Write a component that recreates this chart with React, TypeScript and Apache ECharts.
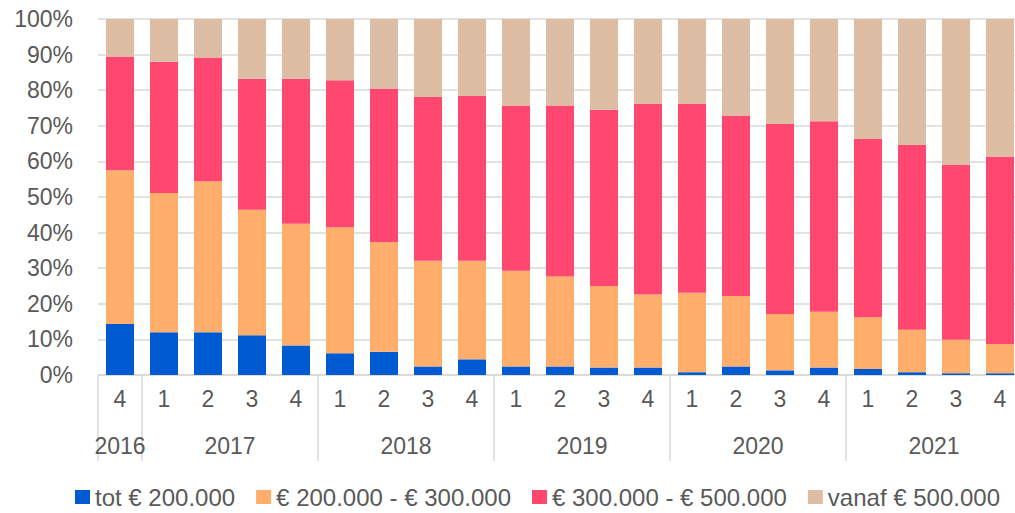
import React, { useEffect, useRef } from "react";
import * as echarts from "echarts";

const quarters = ["4", "1", "2", "3", "4", "1", "2", "3", "4", "1", "2", "3", "4", "1", "2", "3", "4", "1", "2", "3", "4"];
const years = ["2016", "2017", "2018", "2019", "2020", "2021"];
const quartersPerYear = [1, 4, 4, 4, 4, 4];
const yTicks = [0, 10, 20, 30, 40, 50, 60, 70, 80, 90, 100];

const seriesNames = ["tot € 200.000", "€ 200.000 - € 300.000", "€ 300.000 - € 500.000", "vanaf € 500.000"];
const totEur200k = [14.3, 12.0, 12.0, 11.2, 8.3, 6.1, 6.5, 2.4, 4.4, 2.4, 2.4, 2.1, 2.1, 0.8, 2.4, 1.3, 2.1, 1.7, 0.8, 0.5, 0.5];
const eur200to300k = [43.2, 39.1, 42.4, 35.2, 34.2, 35.4, 30.8, 29.7, 27.7, 26.9, 25.3, 22.9, 20.5, 22.3, 19.8, 15.8, 15.7, 14.5, 11.9, 9.4, 8.2];
const eur300to500k = [32.0, 36.9, 34.8, 36.8, 40.7, 41.3, 43.2, 46.0, 46.3, 46.4, 48.0, 49.5, 53.5, 53.0, 50.7, 53.4, 53.5, 50.1, 51.9, 49.1, 52.7];
const vanafEur500k = [10.5, 12.0, 10.8, 16.8, 16.8, 17.2, 19.5, 21.9, 21.6, 24.3, 24.3, 25.5, 23.9, 23.9, 27.1, 29.5, 28.7, 33.7, 35.4, 41.0, 38.6];

const colors = ["#005AD2", "#FFAE6B", "#FF476F", "#DDBEA4"];
const FONT = "'Liberation Sans', Arial, sans-serif";
const TEXT = "#595959";
const GRID = "#D9D9D9";
const FS = 23;

export default function App() {
  const ref = useRef<HTMLDivElement>(null);
  useEffect(() => {
    if (!ref.current) return;
    const chart = echarts.init(ref.current, null, { renderer: "svg" });

    // half-step slots for year labels and year separators
    const n = quarters.length;
    const slots: string[] = new Array(2 * n + 1).fill("");
    const sepIdx = new Set<number>();
    let s = 0;
    years.forEach((y, i) => {
      const c = quartersPerYear[i];
      slots[2 * s + c] = y;
      sepIdx.add(2 * s);
      s += c;
    });
    sepIdx.add(2 * s);
    const slotCats = slots.map((v, i) => (v === "" ? " ".repeat(i + 1) : v));

    const datasets = [totEur200k, eur200to300k, eur300to500k, vanafEur500k];

    chart.setOption({
      animation: false,
      textStyle: { fontFamily: FONT },
      grid: { left: 98, right: 8, top: 19, bottom: 138, containLabel: false },
      legend: {
        top: 480,
        left: 70,
        itemWidth: 15,
        itemHeight: 14,
        itemGap: 21,
        icon: "rect",
        textStyle: { color: TEXT, fontSize: 24, fontFamily: FONT },
        data: seriesNames,
      },
      xAxis: [
        {
          type: "category",
          data: quarters,
          axisLine: { show: true, lineStyle: { color: GRID, width: 1.5 } },
          axisTick: { show: false },
          axisLabel: { interval: 0, color: TEXT, fontSize: FS, margin: 12, fontFamily: FONT },
        },
        {
          type: "category",
          data: slotCats,
          boundaryGap: false,
          position: "bottom",
          axisLine: { show: false },
          axisTick: {
            show: true,
            length: 86,
            interval: (idx: number) => sepIdx.has(idx),
            lineStyle: { color: GRID, width: 1.5 },
          },
          axisLabel: {
            interval: 0,
            color: TEXT,
            fontSize: FS,
            margin: 59,
            fontFamily: FONT,
            formatter: (v: string) => v.trim(),
          },
        },
      ],
      yAxis: {
        type: "value",
        min: yTicks[0],
        max: yTicks[yTicks.length - 1],
        interval: 10,
        axisLine: { show: false },
        axisTick: { show: false },
        axisLabel: { color: TEXT, fontSize: FS, margin: 25, formatter: "{value}%", fontFamily: FONT },
        splitLine: { lineStyle: { color: GRID, width: 1.5 } },
      },
      series: datasets.map((d, i) => ({
        name: seriesNames[i],
        type: "bar",
        stack: "total",
        xAxisIndex: 0,
        barWidth: 28,
        itemStyle: { color: colors[i] },
        data: d,
      })),
    });
    return () => chart.dispose();
  }, []);

  return (
    <div style={{ position: "fixed", left: 0, top: 0, width: 1015, height: 513, overflow: "hidden", background: "#fff" }}>
      <div ref={ref} style={{ width: 1030, height: 513 }} />
    </div>
  );
}
